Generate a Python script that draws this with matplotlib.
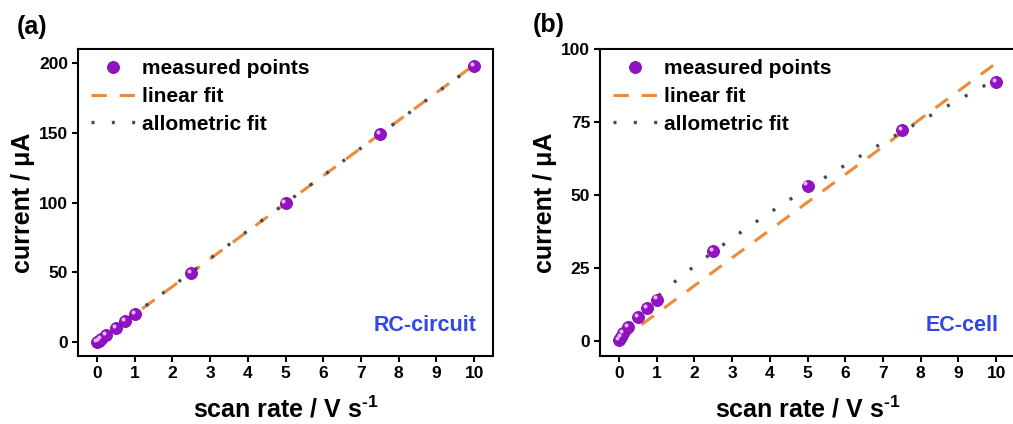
import numpy as np
import matplotlib
matplotlib.use("Agg")
import matplotlib.pyplot as plt
from matplotlib.transforms import offset_copy

# Measured peak currents vs. scan rate
scan_rate = [0.01, 0.05, 0.1, 0.25, 0.5, 0.75, 1.0, 2.5, 5.0, 7.5, 10.0]
current_rc = [0.2, 1.0, 2.0, 5.1, 10.1, 15.0, 20.1, 49.5, 99.9, 149.2, 198.0]
current_ec = [0.6, 1.6, 2.7, 4.9, 8.3, 11.4, 14.3, 30.8, 53.3, 72.4, 88.7]

x_ticks = list(range(0, 11))
y_ticks_rc = [0, 50, 100, 150, 200]
y_ticks_ec = [0, 25, 50, 75, 100]

PURPLE = "#9412C6"
HILITE = "#EBB6F2"
ORANGE = "#EE8A3C"
GREY = "#4A4A4A"
BLUE = "#3446E6"

plt.rcParams["font.family"] = ["Liberation Sans", "DejaVu Sans"]
plt.rcParams["font.weight"] = "bold"
plt.rcParams["mathtext.fontset"] = "custom"
plt.rcParams["mathtext.rm"] = "Liberation Sans:bold"
plt.rcParams["mathtext.bf"] = "Liberation Sans:bold"
plt.rcParams["mathtext.default"] = "rm"


def linear_fit_origin(x, y):
    x = np.asarray(x, float)
    y = np.asarray(y, float)
    return np.sum(x * y) / np.sum(x * x)


def allometric_fit(x, y):
    """Least-squares fit of y = a * x**b (scan over b, closed form for a)."""
    x = np.asarray(x, float)
    y = np.asarray(y, float)
    best = None
    for b in np.linspace(0.3, 1.6, 2601):
        xb = x ** b
        a = np.sum(y * xb) / np.sum(xb * xb)
        sse = np.sum((y - a * xb) ** 2)
        if best is None or sse < best[0]:
            best = (sse, a, b)
    return best[1], best[2]


W, H = 1013, 424
fig = plt.figure(figsize=(W / 100, H / 100), dpi=100)

ax_w = 415 / W
ax_h = 307 / H
ax_b = 1 - 356 / H
ax1 = fig.add_axes([78 / W, ax_b, ax_w, ax_h])
ax2 = fig.add_axes([600 / W, ax_b, ax_w, ax_h])


def draw_panel(ax, y, yticks, ylim, tag):
    xf = np.linspace(0, 10, 400)
    k = linear_fit_origin(scan_rate, y)
    a, b = allometric_fit(scan_rate, y)
    ax.plot(xf, k * xf, color=ORANGE, lw=2.2, dashes=(5.0, 4.2),
            label="linear fit", zorder=3)
    ax.plot(xf, a * xf ** b, color=GREY, lw=2.4, dashes=(0.9, 5.2),
            label="allometric fit", zorder=4)
    ax.plot(scan_rate, y, "o", ms=8.6, color=PURPLE, mec="#7A0AA8",
            mew=0.6, label="measured points", zorder=5)
    # small specular highlight on each sphere
    ax.plot(scan_rate, y, "o", ms=2.9, color=HILITE, mew=0, zorder=6,
            transform=offset_copy(ax.transData, fig=fig, x=-1.5, y=1.5,
                                  units="points"))

    ax.set_xlim(-0.5, 10.5)
    ax.set_ylim(*ylim)
    ax.set_xticks(x_ticks)
    ax.set_yticks(yticks)
    for s in ax.spines.values():
        s.set_linewidth(1.5)
    ax.tick_params(direction="out", length=4, width=1.5, labelsize=12.5,
                   pad=3)
    for lab in ax.get_xticklabels() + ax.get_yticklabels():
        lab.set_fontweight("bold")
    ax.set_xlabel(r"scan rate / V s$^{\text{-1}}$", fontsize=18,
                  fontweight="bold", labelpad=11)
    ax.set_ylabel("current / μA", fontsize=18, fontweight="bold", labelpad=3)

    h, l = ax.get_legend_handles_labels()
    order = [2, 0, 1]
    ax.legend([h[i] for i in order], [l[i] for i in order], loc="upper left",
              bbox_to_anchor=(0.0, 1.008), frameon=False,
              prop={"weight": "bold", "size": 15}, handlelength=2.2,
              handletextpad=0.25, labelspacing=0.42, borderaxespad=0.2,
              borderpad=0.4, numpoints=1)
    ax.text(0.96, 0.10, tag, transform=ax.transAxes, ha="right", va="center",
            color=BLUE, fontsize=15.5, fontweight="bold")


draw_panel(ax1, current_rc, y_ticks_rc, (-10, 210), "RC-circuit")
draw_panel(ax2, current_ec, y_ticks_ec, (-5, 100), "EC-cell")

fig.text(17 / W, 1 - 27 / H, "(a)", fontsize=18, fontweight="bold",
         va="center", ha="left")
fig.text(533 / W, 1 - 25 / H, "(b)", fontsize=18, fontweight="bold",
         va="center", ha="left")

fig.savefig("out.png", dpi=100)
